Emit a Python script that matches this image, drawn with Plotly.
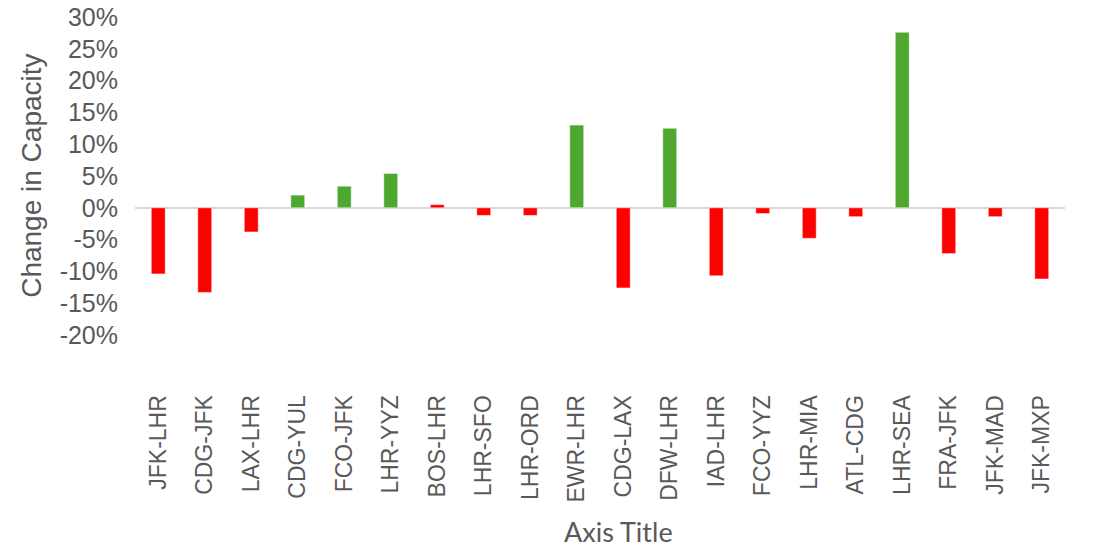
import plotly.graph_objects as go

routes = ["JFK-LHR", "CDG-JFK", "LAX-LHR", "CDG-YUL", "FCO-JFK", "LHR-YYZ", "BOS-LHR",
          "LHR-SFO", "LHR-ORD", "EWR-LHR", "CDG-LAX", "DFW-LHR", "IAD-LHR", "FCO-YYZ",
          "LHR-MIA", "ATL-CDG", "LHR-SEA", "FRA-JFK", "JFK-MAD", "JFK-MXP"]
change_pct = [-10.4, -13.3, -3.8, 2.0, 3.4, 5.4, 0.5, -1.2, -1.2, 13.0, -12.6, 12.5,
              -10.7, -0.9, -4.8, -1.4, 27.6, -7.2, -1.4, -11.2]
y_tick_vals = [-20, -15, -10, -5, 0, 5, 10, 15, 20, 25, 30]
y_tick_text = ["-20%", "-15%", "-10%", "-5%", "0%", "5%", "10%", "15%", "20%", "25%", "30%"]

GREEN = "#4EA72E"
RED = "#FF0000"
colors = [GREEN if v >= 1 else RED for v in change_pct]

TEXT = "#595959"
W, H = 1094, 552
ml, mr, mt, mb = 135, 29, 17, 217

fig = go.Figure(go.Bar(
    x=routes, y=change_pct,
    marker=dict(color=colors, line=dict(color="rgba(255,255,255,0.5)", width=1)),
    width=0.3,
))

fig.update_layout(
    width=W, height=H,
    margin=dict(l=ml, r=mr, t=mt, b=mb),
    paper_bgcolor="white", plot_bgcolor="white",
    showlegend=False,
    font=dict(family="Liberation Sans, Arial, sans-serif", color=TEXT),
    xaxis=dict(
        tickangle=-90,
        tickfont=dict(size=23, color=TEXT),
        ticks="outside", ticklen=50, tickcolor="rgba(0,0,0,0)",
        showline=False, showgrid=False, zeroline=False,
        automargin=False,
    ),
    yaxis=dict(
        range=[-20, 30],
        tickvals=y_tick_vals, ticktext=y_tick_text,
        tickfont=dict(size=25, color=TEXT),
        ticks="outside", ticklen=11, tickcolor="rgba(0,0,0,0)",
        showgrid=False, showline=False,
        zeroline=True, zerolinecolor="#D9D9D9", zerolinewidth=2,
        automargin=False,
    ),
    annotations=[
        dict(text="Change in Capacity", xref="paper", yref="paper",
             x=-0.112, y=0.5, xanchor="center", yanchor="middle",
             textangle=-90, showarrow=False,
             font=dict(size=28, color=TEXT, family="Liberation Sans, Arial, sans-serif")),
        dict(text="Axis Title", xref="paper", yref="paper",
             x=0.52, y=-0.676, xanchor="center", yanchor="bottom",
             showarrow=False,
             font=dict(size=27, color=TEXT, family="Lato, sans-serif")),
    ],
)

fig.write_html("out.html")
